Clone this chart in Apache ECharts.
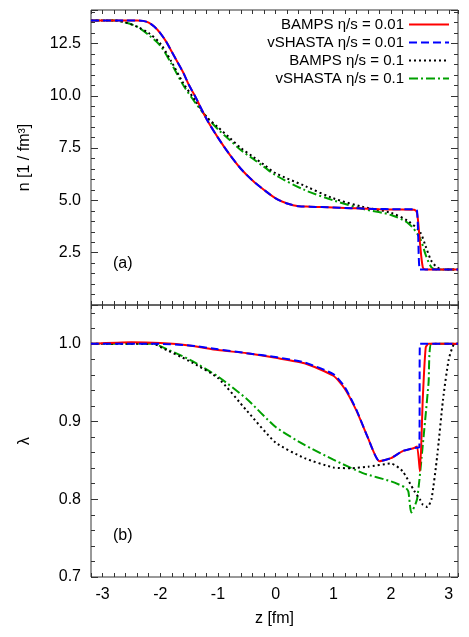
<!DOCTYPE html>
<html>
<head>
<meta charset="utf-8">
<script src="https://cdn.jsdelivr.net/npm/echarts@6/dist/echarts.min.js"></script>
<style>html,body{margin:0;padding:0;background:#fff}#chart{width:469px;height:637px}</style>
</head>
<body>
<div id="chart"></div>
<script>
// panel (a): density n
var zA1 = [-3.2,-2.6,-2.4,-2.3,-2.2,-2.1,-2.0,-1.9,-1.8,-1.7,-1.6,-1.5,-1.4,-1.2,-1.0,-0.8,-0.6,-0.4,-0.2,0,0.2,0.4,0.6,0.8,1.0,1.2,1.4,1.6,1.8,2.0,2.2,2.4,2.45,2.5,2.55,2.6,3.16];
var nBamps01 = [13.6,13.6,13.6,13.58,13.5,13.3,13.0,12.6,12.1,11.6,11.1,10.5,10.0,8.9,8.0,7.2,6.5,5.95,5.5,5.1,4.85,4.72,4.7,4.68,4.66,4.64,4.62,4.6,4.58,4.57,4.57,4.55,4.4,3.0,1.8,1.7,1.7];
var nShasta01 = [13.6,13.6,13.6,13.58,13.5,13.3,13.0,12.6,12.1,11.6,11.1,10.5,10.0,8.9,8.0,7.2,6.5,5.95,5.5,5.1,4.85,4.72,4.7,4.68,4.66,4.64,4.62,4.6,4.59,4.58,4.58,4.57,4.5,1.7,1.7,1.7,1.7];
var zA2 = [-3.2,-2.8,-2.6,-2.4,-2.2,-2.0,-1.8,-1.6,-1.4,-1.2,-1.0,-0.8,-0.6,-0.4,-0.2,0,0.5,1.0,1.5,2.0,2.3,2.5,2.6,2.7,2.8,2.9,3.16];
var nBamps1 = [13.6,13.6,13.5,13.3,13.0,12.5,11.6,10.6,9.8,9.0,8.5,8.0,7.5,7.1,6.7,6.3,5.7,5.1,4.7,4.4,4.0,3.5,2.8,2.1,1.8,1.7,1.7];
var nShasta1 = [13.6,13.6,13.5,13.3,12.9,12.4,11.5,10.5,9.7,9.0,8.4,7.9,7.4,7.0,6.6,6.2,5.5,5.0,4.6,4.3,3.9,3.2,2.4,1.8,1.7,1.7,1.7];
// panel (b): lambda
var zB1 = [-3.2,-2.5,-2.0,-1.5,-1.0,-0.5,0,0.5,1.0,1.2,1.4,1.6,1.8,2.0,2.2,2.4,2.45,2.5,2.55,2.6,2.65,3.16];
var lBamps01 = [1.0,1.002,1.001,0.998,0.992,0.988,0.982,0.975,0.959,0.942,0.914,0.879,0.849,0.853,0.862,0.866,0.868,0.836,0.93,0.995,1.0,1.0];
var zB2 = [-3.2,-2.5,-2.0,-1.5,-1.0,-0.5,0,0.5,1.0,1.2,1.4,1.6,1.8,2.0,2.2,2.4,2.49,2.5,3.16];
var lShasta01 = [1.0,1.0,1.0,0.998,0.993,0.988,0.983,0.976,0.961,0.944,0.915,0.879,0.849,0.853,0.862,0.866,0.867,1.0,1.0];
var zB3 = [-3.2,-2.5,-2.1,-2.0,-1.5,-1.0,-0.5,0,0.5,1.0,1.3,1.6,2.0,2.2,2.4,2.5,2.55,2.63,2.7,2.8,2.9,3.0,3.1,3.16];
var lBamps1 = [1.0,1.0,1.0,0.996,0.978,0.956,0.914,0.873,0.853,0.841,0.84,0.842,0.846,0.836,0.811,0.8,0.793,0.79,0.8,0.856,0.928,0.98,1.0,1.0];
var zB4 = [-3.2,-2.5,-2.1,-2.0,-1.5,-1.0,-0.5,0,0.5,1.0,1.5,2.0,2.25,2.3,2.35,2.45,2.55,2.65,2.7,3.16];
var lShasta1 = [1.0,1.0,1.0,0.997,0.98,0.958,0.929,0.893,0.870,0.851,0.834,0.823,0.815,0.81,0.783,0.80,0.87,0.95,1.0,1.0];

var names = ['BAMPS η/s = 0.01', 'vSHASTA η/s = 0.01', 'BAMPS η/s = 0.1', 'vSHASTA η/s = 0.1'];
var colors = ['#ff0000', '#0000ff', '#000000', '#00a000'];
var types = ['solid', [8, 4], [2, 3], [9, 3, 2, 3]];

function pairs(xs, ys) {
    return xs.map(function (x, i) { return [x, ys[i]]; });
}

var font = 'Liberation Sans, Arial, sans-serif';
function xAxis(idx, pos, labels) {
    var a = {
        type: 'value', gridIndex: idx, position: pos, min: -3.2, max: 3.16, interval: 0.2,
        splitLine: {show: false},
        axisLine: {show: false, onZero: false},
        axisTick: {show: true, inside: true, length: 4, lineStyle: {color: '#333'}},
        axisLabel: {show: false}
    };
    if (labels) {
        a.axisLabel = {show: true, color: '#000', fontSize: 16, fontFamily: font, margin: 10,
            formatter: function (v) { return Math.abs(v - Math.round(v)) < 1e-6 ? String(Math.round(v)) : ''; }};
        a.name = 'z [fm]';
        a.nameLocation = 'middle';
        a.nameGap = 34;
        a.nameTextStyle = {color: '#000', fontSize: 16, fontFamily: font};
    }
    return a;
}
function yAxis(idx, pos, min, max, interval, labels, name, skipMin) {
    var a = {
        type: 'value', gridIndex: idx, position: pos, min: min, max: max, interval: interval,
        splitLine: {show: false},
        axisLine: {show: false, onZero: false},
        axisTick: {show: true, inside: true, length: 7, lineStyle: {color: '#333'}},
        minorTick: {show: true, splitNumber: 5, length: 4, lineStyle: {color: '#333'}},
        axisLabel: {show: false}
    };
    if (labels) {
        a.axisLabel = {show: true, color: '#000', fontSize: 16, fontFamily: font, margin: 10,
            formatter: function (v) {
                var k = (v - min) / interval;
                if (Math.abs(k - Math.round(k)) > 1e-6) return '';
                if (skipMin && Math.abs(v - min) < 1e-6) return '';
                return v.toFixed(1);
            }};
        a.name = name;
        a.nameLocation = 'middle';
        a.nameGap = 58;
        a.nameTextStyle = {color: '#000', fontSize: 16, fontFamily: font};
    }
    return a;
}

var series = [];
var dataA = [pairs(zA1, nBamps01), pairs(zA1, nShasta01), pairs(zA2, nBamps1), pairs(zA2, nShasta1)];
var dataB = [pairs(zB1, lBamps01), pairs(zB2, lShasta01), pairs(zB3, lBamps1), pairs(zB4, lShasta1)];
var order = [3, 2, 0, 1];
order.forEach(function (i) {
    series.push({name: names[i], type: 'line', xAxisIndex: 0, yAxisIndex: 0, data: dataA[i], symbol: 'none',
        smooth: 0.3, lineStyle: {color: colors[i], width: 2, type: types[i]}, itemStyle: {color: colors[i]}});
    series.push({name: names[i], type: 'line', xAxisIndex: 2, yAxisIndex: 2, data: dataB[i], symbol: 'none',
        smooth: 0.2, lineStyle: {color: colors[i], width: 2, type: types[i]}, itemStyle: {color: colors[i]}});
});

var option = {
    animation: false,
    grid: [
        {left: 91, right: 11, top: 10, height: 295, show: true, borderColor: '#333', borderWidth: 1},
        {left: 91, right: 11, top: 305, height: 272, show: true, borderColor: '#333', borderWidth: 1}
    ],
    xAxis: [xAxis(0, 'bottom', false), xAxis(0, 'top', false), xAxis(1, 'bottom', true), xAxis(1, 'top', false)],
    yAxis: [
        yAxis(0, 'left', 0, 14.1, 2.5, true, 'n [1 / fm³]', true),
        yAxis(0, 'right', 0, 14.1, 2.5, false),
        yAxis(1, 'left', 0.7, 1.05, 0.1, true, 'λ', false),
        yAxis(1, 'right', 0.7, 1.05, 0.1, false)
    ],
    legend: {
        data: names, orient: 'vertical', align: 'right', right: 14, top: 12, itemGap: 3,
        itemWidth: 40, itemHeight: 14,
        itemStyle: {opacity: 0},
        textStyle: {color: '#000', fontSize: 15, fontFamily: font}
    },
    graphic: [
        {type: 'text', left: 113, top: 256, style: {text: '(a)', fontSize: 16, fontFamily: font, fill: '#000'}},
        {type: 'text', left: 113, top: 528, style: {text: '(b)', fontSize: 16, fontFamily: font, fill: '#000'}}
    ],
    series: series
};
echarts.init(document.getElementById('chart')).setOption(option);
</script>
</body>
</html>
